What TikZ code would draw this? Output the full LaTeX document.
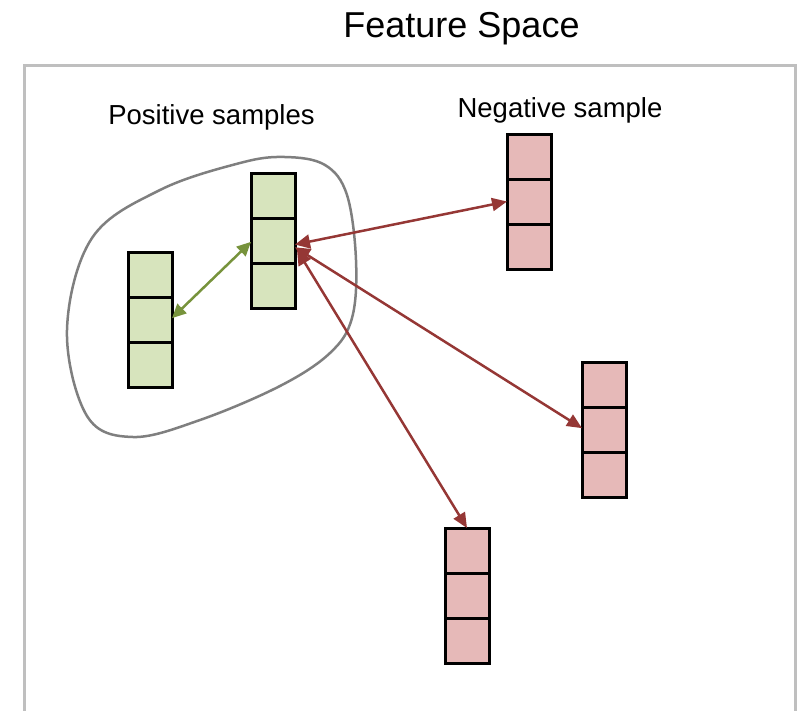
\documentclass[tikz,border=0pt]{standalone}
\usepackage{fontspec}
\setmainfont{Liberation Sans}
\usetikzlibrary{arrows.meta,calc}
\definecolor{posfill}{HTML}{D7E4BD}
\definecolor{negfill}{HTML}{E6B9B8}
\definecolor{posline}{HTML}{77933C}
\definecolor{negline}{HTML}{953735}
\definecolor{framegray}{HTML}{BFBFBF}
\definecolor{blobgray}{HTML}{7F7F7F}
\tikzset{
  sample/.style={draw=black, line width=3pt, minimum width=44pt, minimum height=135pt, inner sep=0pt, outer sep=0pt},
  possample/.style={sample, fill=posfill},
  negsample/.style={sample, fill=negfill},
  divider/.style={draw=black, line width=3pt},
  posarrow/.style={draw=posline, line width=2.5pt, {Triangle[length=14pt,width=13pt]}-{Triangle[length=14pt,width=13pt]}},
  negarrow/.style={draw=negline, line width=2.5pt, {Triangle[length=15pt,width=14pt]}-{Triangle[length=15pt,width=13pt]}},
  label/.style={anchor=base, inner sep=0pt, font=\fontsize{27.5}{30}\selectfont},
}
\newcommand{\celllines}[1]{%
  \draw[divider] ($(#1.north west)!1/3!(#1.south west)$) -- ($(#1.north east)!1/3!(#1.south east)$);
  \draw[divider] ($(#1.north west)!2/3!(#1.south west)$) -- ($(#1.north east)!2/3!(#1.south east)$);
}
\begin{document}
\begin{tikzpicture}[x=1pt,y=-1pt]
\useasboundingbox (0,0) rectangle (800,710);
% frame
\draw[framegray, line width=3pt] (24,720) -- (24,65) -- (795,65) -- (795,720);
% title and labels
\node[anchor=base, inner sep=0pt, font=\fontsize{36}{40}\selectfont] (title) at (461.5,37) {Feature Space};
\node[label] (poslabel) at (211.5,124) {Positive samples};
\node[label] (neglabel) at (560,117) {Negative sample};
% blob
\draw[blobgray, line width=2.5pt] plot[smooth cycle, tension=0.6] coordinates {
  (285,157) (325,165) (347,195) (356,260) (352,318) (330,353) (280,386) (200,420) (133,437) (87,416) (67,330) (92,238) (160,190) (240,163)};
% samples
\node[possample] (A) at (150,319.5) {};
\node[possample] (B) at (273,240.5) {};
\node[negsample] (N1) at (529,201.5) {};
\node[negsample] (N2) at (604,429.5) {};
\node[negsample] (N3) at (467,595.5) {};
\celllines{A}
\celllines{B}
\celllines{N1}
\celllines{N2}
\celllines{N3}
% arrows
\coordinate (Aport) at ($(A.north east)!0.49!(A.south east)$);
\coordinate (Bin) at ($(B.north west)!0.51!(B.south west)$);
\coordinate (Bout1) at ($(B.north east)!0.53!(B.south east)$);
\coordinate (Bout2) at ($(B.north east)!0.55!(B.south east)$);
\coordinate (Bout3) at ($(B.north east)!0.57!(B.south east)$);
\coordinate (N1port) at ($(N1.north west)!0.5!(N1.south west)$);
\coordinate (N2port) at ($(N2.north west)!0.49!(N2.south west)$);
\draw[posarrow] (Aport) -- (Bin);
\draw[negarrow] (Bout1) -- (N1port);
\draw[negarrow] (Bout2) -- (N2port);
\draw[negarrow] ([xshift=2pt]Bout3) -- (N3.north);
\end{tikzpicture}
\end{document}
